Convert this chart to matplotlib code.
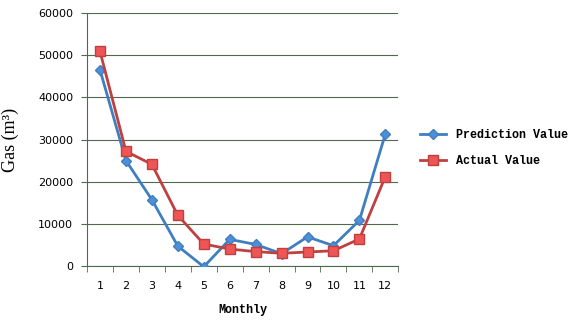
import numpy as np
import matplotlib
matplotlib.use("Agg")
import matplotlib.pyplot as plt
from matplotlib.ticker import FixedLocator

# Data
months = list(range(1, 13))
prediction = [46500, 25000, 15700, 4700, -200, 6300, 5100, 2900, 6900, 4800, 10800, 31300]
actual = [50900, 27200, 24100, 12000, 5200, 4000, 3400, 3000, 3300, 3600, 6400, 21200]
y_ticks = [0, 10000, 20000, 30000, 40000, 50000, 60000]

grid_col = "#4f6a4f"
blue = "#3f7fc0"
red = "#bf4040"

fig = plt.figure(figsize=(5.69, 3.2), dpi=100)
ax = fig.add_axes([0.153, 0.169, 0.547, 0.790])

ax.plot(months, prediction, color=blue, lw=2, marker="D", ms=5,
        mfc="#4f8fd8", mec=blue, label="Prediction Value", zorder=3)
ax.plot(months, actual, color=red, lw=2, marker="s", ms=7.5,
        mfc="#ee5555", mec="#c04040", label="Actual Value", zorder=4)

ax.set_xlim(0.5, 12.5)
ax.set_ylim(0, 60000)
ax.set_yticks(y_ticks)
ax.set_xticks(months)
ax.xaxis.set_minor_locator(FixedLocator(np.arange(0.5, 13, 1)))
ax.tick_params(axis="x", which="major", length=0, pad=11, labelsize=8)
ax.tick_params(axis="x", which="minor", length=4, color=grid_col, direction="out")
ax.tick_params(axis="y", length=4, color=grid_col, labelsize=8, pad=6)
ax.yaxis.grid(True, color=grid_col, lw=0.8)
ax.set_axisbelow(True)

for side in ["top", "right"]:
    ax.spines[side].set_visible(False)
for side in ["left", "bottom"]:
    ax.spines[side].set_color(grid_col)

ax.set_xlabel("Monthly", fontfamily="Liberation Mono", fontweight="bold",
              fontsize=8.5, labelpad=9)
ax.set_ylabel("Gas (m³)", fontfamily="Liberation Serif", fontsize=13, labelpad=14)

fig.legend(loc="upper left", bbox_to_anchor=(0.72, 0.63), frameon=False,
           prop={"family": "Liberation Mono", "weight": "bold", "size": 8.5},
           handlelength=2.2, labelspacing=1.2)

plt.savefig("out.png", dpi=100)
